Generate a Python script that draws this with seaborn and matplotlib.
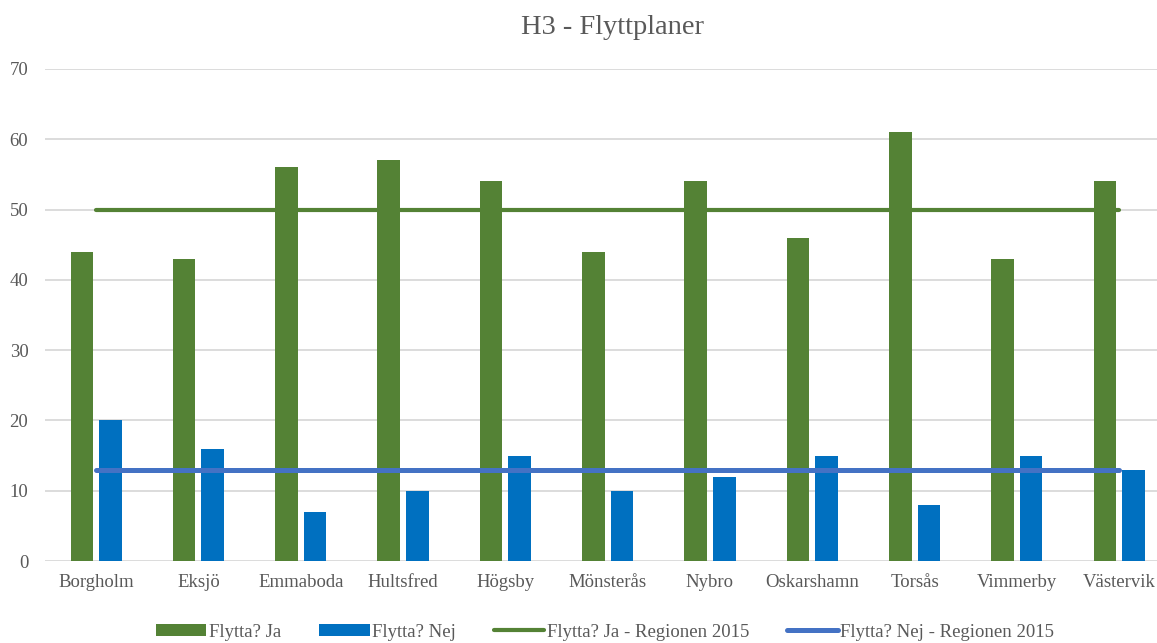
import seaborn as sns
import matplotlib.pyplot as plt
import pandas as pd
import numpy as np

# Data
kommuner = ['Borgholm', 'Eksjö', 'Emmaboda', 'Hultsfred', 'Högsby', 'Mönsterås',
            'Nybro', 'Oskarshamn', 'Torsås', 'Vimmerby', 'Västervik']
flytta_ja = [44, 43, 56, 57, 54, 44, 54, 46, 61, 43, 54]
flytta_nej = [20, 16, 7, 10, 15, 10, 12, 15, 8, 15, 13]
region_ja = [50] * len(kommuner)
region_nej = [13] * len(kommuner)

series = ['Flytta? Ja', 'Flytta? Nej']
df = pd.DataFrame({
    'Kommun': kommuner * 2,
    'Serie': [series[0]] * len(kommuner) + [series[1]] * len(kommuner),
    'Andel': flytta_ja + flytta_nej,
})

sns.set_style('white')
plt.rcParams['font.family'] = ['Liberation Serif', 'DejaVu Serif']
grey = '#595959'

fig = plt.figure(figsize=(11.57, 6.43), dpi=100)
ax = fig.add_axes([0.0389, 0.1275, 0.9611, 0.7652])

sns.barplot(data=df, x='Kommun', y='Andel', hue='Serie', order=kommuner,
            palette=['#548235', '#0070C0'], width=0.56, gap=0.21,
            linewidth=0, saturation=1, ax=ax, zorder=2)

pos = np.arange(len(kommuner))
sns.lineplot(x=pos, y=region_ja, color='#548235', linewidth=3.0, ax=ax,
             label='Flytta? Ja - Regionen 2015', solid_capstyle='round', zorder=3)
sns.lineplot(x=pos, y=region_nej, color='#4472C4', linewidth=3.6, ax=ax,
             label='Flytta? Nej - Regionen 2015', solid_capstyle='round', zorder=3)

ax.set_ylim(0, 70)
ax.set_xlim(-0.5, 10.37)
ax.set_yticks(range(0, 71, 10))
ax.yaxis.grid(True, color='#D9D9D9', linewidth=1.3, zorder=0)
ax.set_axisbelow(True)
for s in ax.spines.values():
    s.set_visible(False)
ax.set_xlabel('')
ax.set_ylabel('')
ax.tick_params(axis='both', length=0, labelsize=13.5, labelcolor=grey)
ax.tick_params(axis='x', pad=9)
ax.tick_params(axis='y', pad=12)

handles, labels = ax.get_legend_handles_labels()
ax.get_legend().remove()
fig.legend(handles, labels, loc='center', bbox_to_anchor=(0.523, 0.017), ncol=4,
           frameon=False, fontsize=13.5, labelcolor=grey, handlelength=2.7,
           handleheight=0.65, handletextpad=0.15, columnspacing=2.0)

fig.text(0.529, 0.957, 'H3 - Flyttplaner', ha='center', va='center',
         fontsize=20.5, color=grey)

fig.savefig('out.png', dpi=100)
plt.close(fig)
